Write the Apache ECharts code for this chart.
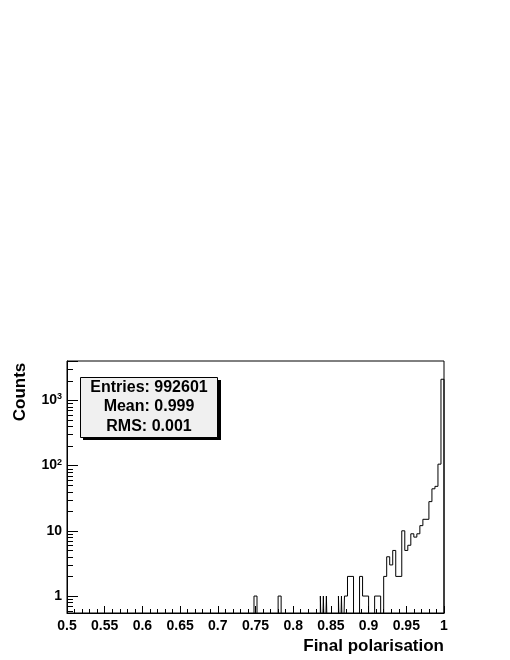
<!DOCTYPE html>
<html>
<head>
<meta charset="utf-8">
<script src="https://cdn.jsdelivr.net/npm/echarts@6/dist/echarts.min.js"></script>
<style>
  html, body { margin: 0; padding: 0; background: #fff; }
  #main { width: 510px; height: 660px; }
</style>
</head>
<body>
<div id="main"></div>
<script>
// histogram steps: each bin runs from its edge to the next one, the last to xEnd
var binEdges = [0.500, 0.748, 0.752, 0.780, 0.784, 0.836, 0.838, 0.840, 0.842, 0.844,
  0.846, 0.860, 0.862, 0.864, 0.866, 0.868, 0.872, 0.880, 0.888, 0.892,
  0.900, 0.908, 0.916, 0.920, 0.924, 0.928, 0.932, 0.936, 0.944, 0.948,
  0.952, 0.956, 0.960, 0.964, 0.968, 0.972, 0.980, 0.984, 0.988, 0.992, 0.996]
var binCounts = [0, 1, 0, 1, 0, 1, 0, 1, 0, 1,
  0, 1, 0, 1, 0, 1, 2, 0, 2, 1,
  0, 1, 0, 2, 4, 3, 5, 2, 10, 5,
  6, 9, 8, 9, 12, 15, 28, 44, 48, 105, 2100]
var xEnd = 1.0

var statsLines = ['Entries: 992601', 'Mean: 0.999', 'RMS: 0.001']
var xTitle = 'Final polarisation'
var yTitle = 'Counts'

var font = '"Liberation Sans", Arial, Helvetica, sans-serif'
var yMin = 0.55
var yMax = 4000
var floorVal = 0.1 // empty bins, drawn below the axis and clipped

var stepData = binEdges.map(function (e, i) {
  return [e, binCounts[i] > 0 ? binCounts[i] : floorVal]
})
stepData.push([xEnd, floorVal])

// minor ticks of the log axis (2..9 per decade)
var yMinor = []
;[0.1, 1, 10, 100, 1000].forEach(function (d) {
  for (var m = 2; m <= 9; m++) {
    var v = m * d
    if (v > yMin && v < yMax) yMinor.push([0.5, v])
  }
})

var chart = echarts.init(document.getElementById('main'))

var option = {
  animation: false,
  backgroundColor: '#fff',
  grid: {
    left: 67,
    right: 66,
    top: 361,
    bottom: 47,
    show: true,
    borderColor: '#000',
    borderWidth: 1,
    backgroundColor: 'transparent'
  },
  xAxis: {
    type: 'value',
    min: 0.5,
    max: 1,
    interval: 0.05,
    axisLine: { show: true, lineStyle: { color: '#000', width: 1 } },
    axisTick: { show: true, inside: true, length: 7, lineStyle: { color: '#000' } },
    minorTick: { show: true, splitNumber: 5, length: 4, lineStyle: { color: '#000' } },
    splitLine: { show: false },
    axisLabel: {
      color: '#000',
      fontFamily: font,
      fontWeight: 'bold',
      fontSize: 14,
      margin: 6
    }
  },
  yAxis: {
    type: 'log',
    logBase: 10,
    min: yMin,
    max: yMax,
    axisLine: { show: true, lineStyle: { color: '#000', width: 1 } },
    axisTick: { show: true, inside: true, length: 11, lineStyle: { color: '#000' } },
    splitLine: { show: false },
    axisLabel: {
      color: '#000',
      margin: 5,
      formatter: function (v) {
        var l = Math.log10(v)
        var e = Math.round(l)
        if (Math.abs(l - e) > 1e-6) return ''
        if (e === 0) return '{b|1}'
        if (e === 1) return '{b|10}'
        return '{b|10}{s|' + e + '}'
      },
      rich: {
        b: { fontFamily: font, fontWeight: 'bold', fontSize: 14, color: '#000' },
        s: { fontFamily: font, fontWeight: 'bold', fontSize: 9, color: '#000', verticalAlign: 'bottom', padding: [0, 0, 7, 0] }
      }
    }
  },
  series: [
    {
      name: 'hist',
      type: 'line',
      step: 'end',
      data: stepData,
      showSymbol: false,
      clip: true,
      lineStyle: { color: '#000', width: 1 },
      z: 5
    },
    {
      name: 'yMinorTicks',
      type: 'custom',
      silent: true,
      data: yMinor,
      renderItem: function (params, api) {
        var p = api.coord([api.value(0), api.value(1)])
        var y = Math.round(p[1]) + 0.5
        return {
          type: 'line',
          shape: { x1: p[0], y1: y, x2: p[0] + 6, y2: y },
          style: { stroke: '#000', lineWidth: 1 }
        }
      },
      z: 6
    }
  ],
  graphic: [
    { type: 'rect', shape: { x: 83, y: 380, width: 138, height: 60 }, style: { fill: '#000' }, z: 10 },
    { type: 'rect', shape: { x: 80.5, y: 377.5, width: 137, height: 60 }, style: { fill: '#f0f0f0', stroke: '#000', lineWidth: 1 }, z: 11 },
    { type: 'text', x: 149, y: 388, z: 12, style: { text: statsLines[0], font: 'bold 16px ' + font, fill: '#000', textAlign: 'center', textVerticalAlign: 'middle', align: 'center', verticalAlign: 'middle' } },
    { type: 'text', x: 149, y: 407, z: 12, style: { text: statsLines[1], font: 'bold 16px ' + font, fill: '#000', textAlign: 'center', textVerticalAlign: 'middle', align: 'center', verticalAlign: 'middle' } },
    { type: 'text', x: 149, y: 427, z: 12, style: { text: statsLines[2], font: 'bold 16px ' + font, fill: '#000', textAlign: 'center', textVerticalAlign: 'middle', align: 'center', verticalAlign: 'middle' } },
    { type: 'text', x: 444, y: 646, z: 12, style: { text: xTitle, font: 'bold 17px ' + font, fill: '#000', textAlign: 'right', textVerticalAlign: 'middle', align: 'right', verticalAlign: 'middle' } },
    { type: 'text', x: 20, y: 392, rotation: Math.PI / 2, z: 12, style: { text: yTitle, font: 'bold 17px ' + font, fill: '#000', textAlign: 'center', textVerticalAlign: 'middle', align: 'center', verticalAlign: 'middle' } }
  ]
}

chart.setOption(option)
</script>
</body>
</html>
